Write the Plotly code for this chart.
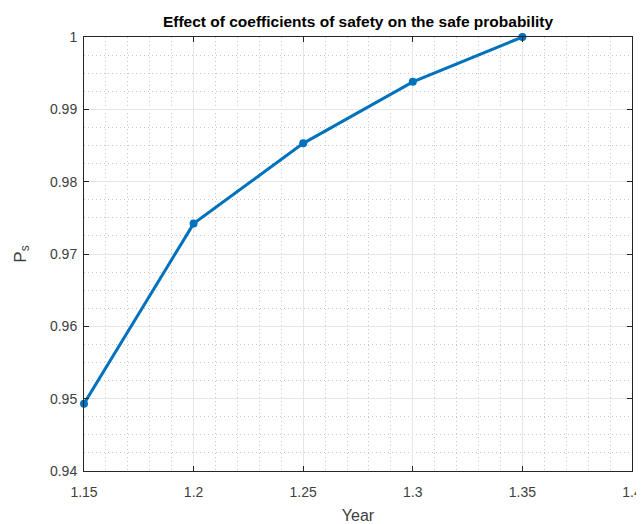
import plotly.graph_objects as go

coef = [1.15, 1.2, 1.25, 1.3, 1.35]
ps = [0.9493, 0.9742, 0.9853, 0.9938, 1.0]
x_ticks = [1.15, 1.2, 1.25, 1.3, 1.35, 1.4]
x_labels = ["1.15", "1.2", "1.25", "1.3", "1.35", "1.4"]
y_ticks = [0.94, 0.95, 0.96, 0.97, 0.98, 0.99, 1.0]
y_labels = ["0.94", "0.95", "0.96", "0.97", "0.98", "0.99", "1"]

FONT = "Liberation Sans, Arial, sans-serif"
# page body has an 8px default margin; figure sized to compensate
W, H = 636, 516

fig = go.Figure()
fig.add_trace(go.Scatter(
    x=coef, y=ps, mode="lines+markers",
    line=dict(color="#0072BD", width=3),
    marker=dict(color="#0072BD", size=8),
    cliponaxis=False,
))

axis_common = dict(
    showline=True, linecolor="#262626", linewidth=1, mirror="ticks",
    ticks="inside", ticklen=5, tickcolor="#262626", tickwidth=1,
    showgrid=True, gridcolor="#E6E6E6", gridwidth=1,
    zeroline=False, automargin=False,
    tickfont=dict(family=FONT, size=14, color="#404040"),
)

fig.update_layout(
    width=W, height=H,
    margin=dict(l=76, r=12, t=29, b=53),
    paper_bgcolor="white", plot_bgcolor="white",
    showlegend=False,
    title=dict(
        text="<b>Effect of coefficients of safety on the safe probability</b>",
        x=350 / W, xanchor="center", y=1 - 14 / H, yanchor="middle",
        font=dict(family=FONT, size=15.5, color="black"),
    ),
    xaxis=dict(
        range=[1.15, 1.4], tickvals=x_ticks, ticktext=x_labels,
        ticklabelstandoff=8,
        minor=dict(dtick=0.01, tick0=1.15, showgrid=True, griddash="1px,3px", gridcolor="#C8C8C8", ticks=""),
        title=dict(text="Year", standoff=14,
                   font=dict(family=FONT, size=16, color="#404040")),
        **axis_common,
    ),
    yaxis=dict(
        range=[0.94, 1.0], tickvals=y_ticks, ticktext=y_labels,
        ticklabelstandoff=3,
        minor=dict(dtick=0.0025, tick0=0.94, showgrid=True, griddash="1px,3px", gridcolor="#C8C8C8", ticks=""),
        title=dict(text="P<sub>s</sub>", standoff=19,
                   font=dict(family=FONT, size=17, color="#404040")),
        **axis_common,
    ),
)

fig.write_html("out.html")
